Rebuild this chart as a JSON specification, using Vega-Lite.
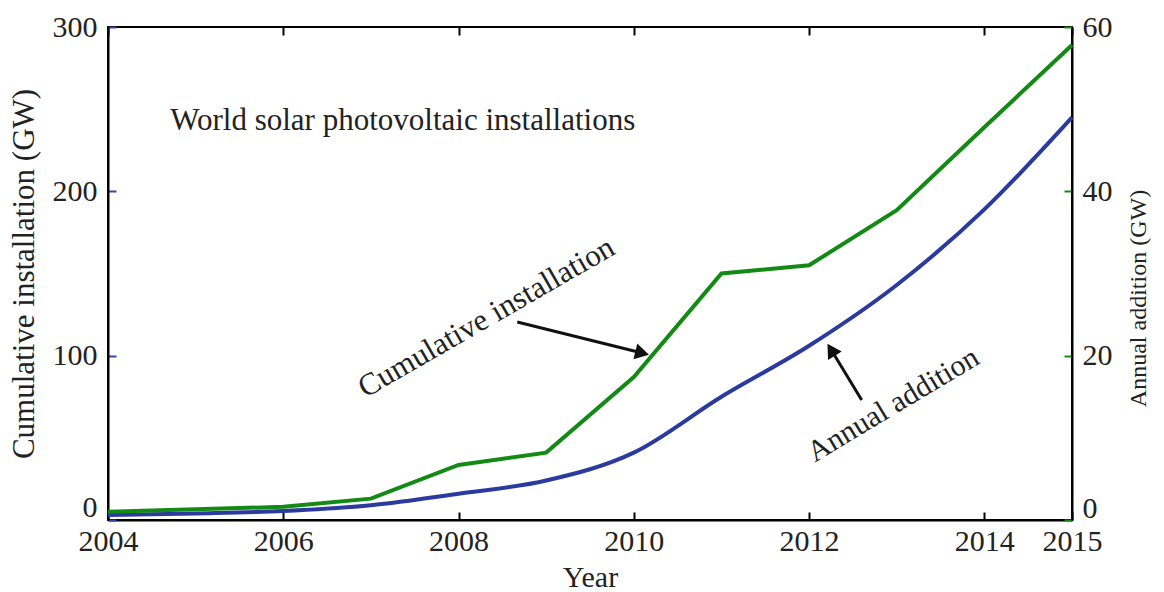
{
  "$schema": "https://vega.github.io/schema/vega-lite/v6.json",
  "width": 964,
  "height": 493,
  "autosize": {"type": "none"},
  "padding": {"left": 108, "top": 27, "right": 92, "bottom": 72},
  "background": "white",
  "config": {
    "view": {"stroke": "black", "strokeWidth": 2},
    "font": "Liberation Serif",
    "axis": {
      "labelFont": "Liberation Serif",
      "titleFont": "Liberation Serif",
      "labelFontSize": 30,
      "titleFontSize": 30,
      "labelColor": "#222222",
      "titleColor": "#222222",
      "titleFontWeight": "normal",
      "domainColor": "black",
      "domainWidth": 2,
      "grid": false,
      "tickWidth": 2
    }
  },
  "datasets": {
    "pv": [
      {"year": 2004, "cumulative": 3, "annual": 1.0},
      {"year": 2005, "cumulative": 4, "annual": 1.3},
      {"year": 2006, "cumulative": 5.5, "annual": 1.6},
      {"year": 2007, "cumulative": 9, "annual": 2.6},
      {"year": 2008, "cumulative": 16, "annual": 6.7},
      {"year": 2009, "cumulative": 24, "annual": 8.2},
      {"year": 2010, "cumulative": 41, "annual": 17.4},
      {"year": 2011, "cumulative": 75, "annual": 30.0},
      {"year": 2012, "cumulative": 106, "annual": 31.0},
      {"year": 2013, "cumulative": 143, "annual": 37.7},
      {"year": 2014, "cumulative": 189, "annual": 47.8},
      {"year": 2015, "cumulative": 245, "annual": 57.8}
    ],
    "title": [
      {"year": 2004.71, "val": 243, "label": "World solar photovoltaic installations"}
    ],
    "note1": [
      {"year": 2008.32, "val": 123, "label": "Cumulative installation"}
    ],
    "note2": [
      {"year": 2012.96, "val": 70, "label": "Annual addition"}
    ],
    "arrows": [
      {"year": 2008.67, "val": 120.5, "year2": 2010.095, "val2": 101.6},
      {"year": 2012.60, "val": 73, "year2": 2012.252, "val2": 103.6}
    ],
    "head1": [{"year": 2010.095, "val": 101.6}],
    "head2": [{"year": 2012.252, "val": 103.6}]
  },
  "layer": [
    {
      "layer": [
        {
          "data": {"name": "pv"},
          "mark": {"type": "line", "color": "#2b3a9e", "strokeWidth": 4, "interpolate": "monotone"},
          "encoding": {
            "x": {
              "field": "year", "type": "quantitative",
              "scale": {"domain": [2004, 2015], "nice": false, "zero": false},
              "axis": {
                "values": [2004, 2006, 2008, 2010, 2012, 2014, 2015],
                "format": "d",
                "title": "Year",
                "tickSize": -8,
                "tickColor": "black",
                "labelPadding": 14,
                "titlePadding": 6,
                "labelFlush": false
              }
            },
            "y": {
              "field": "cumulative", "type": "quantitative",
              "scale": {"domain": [0, 300], "nice": false},
              "axis": {
                "values": [0, 100, 200, 300],
                "title": "Cumulative installation (GW)",
                "titleFontSize": 31,
                "tickSize": -8,
                "tickColor": "#3344aa",
                "labelPadding": 19,
                "labelBaseline": {"condition": {"test": "datum.value === 0", "value": "bottom"}, "value": "middle"},
                "labelOffset": {"condition": {"test": "datum.value === 0", "value": 2}, "value": 0},
                "titlePadding": 12
              }
            }
          }
        },
        {
          "data": {"name": "title"},
          "mark": {"type": "text", "align": "left", "baseline": "middle", "fontSize": 31, "font": "Liberation Serif", "color": "#222222"},
          "encoding": {
            "x": {"field": "year", "type": "quantitative", "scale": {"domain": [2004, 2015]}},
            "y": {"field": "val", "type": "quantitative", "scale": {"domain": [0, 300]}},
            "text": {"field": "label"}
          }
        },
        {
          "data": {"name": "note1"},
          "mark": {"type": "text", "align": "center", "baseline": "middle", "fontSize": 31, "font": "Liberation Serif", "color": "#222222", "angle": -30},
          "encoding": {
            "x": {"field": "year", "type": "quantitative", "scale": {"domain": [2004, 2015]}},
            "y": {"field": "val", "type": "quantitative", "scale": {"domain": [0, 300]}},
            "text": {"field": "label"}
          }
        },
        {
          "data": {"name": "note2"},
          "mark": {"type": "text", "align": "center", "baseline": "middle", "fontSize": 30, "font": "Liberation Serif", "color": "#222222", "angle": -31},
          "encoding": {
            "x": {"field": "year", "type": "quantitative", "scale": {"domain": [2004, 2015]}},
            "y": {"field": "val", "type": "quantitative", "scale": {"domain": [0, 300]}},
            "text": {"field": "label"}
          }
        },
        {
          "data": {"name": "arrows"},
          "mark": {"type": "rule", "color": "#111111", "strokeWidth": 3},
          "encoding": {
            "x": {"field": "year", "type": "quantitative", "scale": {"domain": [2004, 2015]}},
            "y": {"field": "val", "type": "quantitative", "scale": {"domain": [0, 300]}},
            "x2": {"field": "year2"},
            "y2": {"field": "val2"}
          }
        },
        {
          "data": {"name": "head1"},
          "mark": {"type": "point", "shape": "triangle-up", "filled": true, "color": "#111111", "size": 260, "angle": 104, "opacity": 1},
          "encoding": {
            "x": {"field": "year", "type": "quantitative", "scale": {"domain": [2004, 2015]}},
            "y": {"field": "val", "type": "quantitative", "scale": {"domain": [0, 300]}}
          }
        },
        {
          "data": {"name": "head2"},
          "mark": {"type": "point", "shape": "triangle-up", "filled": true, "color": "#111111", "size": 260, "angle": 328, "opacity": 1},
          "encoding": {
            "x": {"field": "year", "type": "quantitative", "scale": {"domain": [2004, 2015]}},
            "y": {"field": "val", "type": "quantitative", "scale": {"domain": [0, 300]}}
          }
        }
      ]
    },
    {
      "data": {"name": "pv"},
      "mark": {"type": "line", "color": "#138a13", "strokeWidth": 4},
      "encoding": {
        "x": {
          "field": "year", "type": "quantitative",
          "scale": {"domain": [2004, 2015], "nice": false, "zero": false},
          "axis": {
            "orient": "top",
            "values": [2004, 2006, 2008, 2010, 2012, 2014, 2015],
            "labels": false,
            "title": null,
            "tickSize": -8,
            "tickColor": "black",
            "domain": false
          }
        },
        "y": {
          "field": "annual", "type": "quantitative",
          "scale": {"domain": [0, 60], "nice": false},
          "axis": {
            "orient": "right",
            "values": [0, 20, 40, 60],
            "title": "Annual addition (GW)",
            "titleFontSize": 24,
            "titleAngle": -90,
            "titleY": 271,
            "tickSize": -8,
            "tickColor": "#138a13",
            "labelPadding": 18,
            "labelBaseline": {"condition": {"test": "datum.value === 0", "value": "bottom"}, "value": "middle"},
            "labelOffset": {"condition": {"test": "datum.value === 0", "value": 3}, "value": 0},
            "titlePadding": 38
          }
        }
      }
    }
  ],
  "resolve": {"scale": {"y": "independent"}, "axis": {"x": "independent"}}
}
